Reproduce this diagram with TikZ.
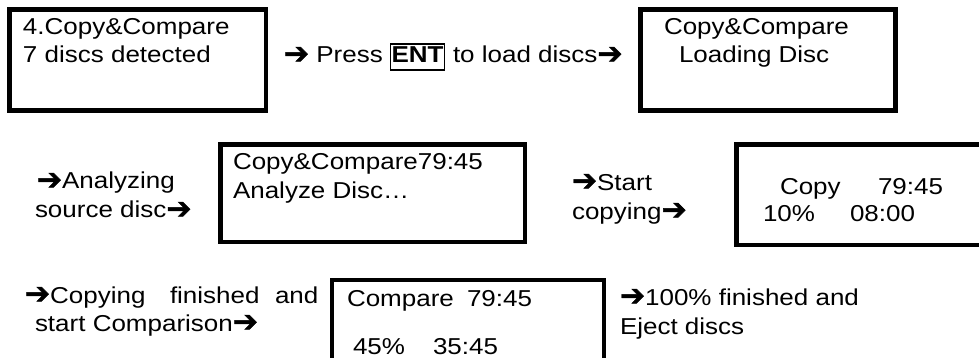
\documentclass[tikz,border=0pt]{standalone}
\usepackage{fontspec}
\setmainfont{Liberation Sans}[FakeStretch=1.13]
\newfontfamily\arrfont{DejaVu Sans}[FakeBold=1.5]
\newcommand{\harr}{{\arrfont\fontsize{30}{30}\selectfont\raisebox{-0.6pt}{➔}}}
\begin{document}
\begin{tikzpicture}[x=1pt,y=-1pt,
  every node/.style={inner sep=0pt, outer sep=0pt, font=\fontsize{23}{28}\selectfont},
  lcd/.style={draw, line width=4.5pt, anchor=north west},
  txt/.style={anchor=base west},
  keybox/.style={draw, line width=1.4pt, anchor=base, inner sep=1pt, text height=18pt, text depth=6pt, font=\fontsize{23}{28}\selectfont\bfseries}]
\useasboundingbox (0,0) rectangle (979,358);
\clip (0,0) rectangle (979,358);
% LCD boxes
\node[lcd, minimum width=256.5pt, minimum height=101pt] (b1) at (9.5,9.5) {};
\node[lcd, minimum width=255pt, minimum height=101pt] (b2) at (640.7,9.5) {};
\node[lcd, minimum width=304.3pt, minimum height=97.5pt] (b3) at (220.7,144.5) {};
\node[lcd, minimum width=260pt, minimum height=100.5pt] (b4) at (736.5,144.5) {};
\node[lcd, minimum width=272pt, minimum height=95pt] (b5) at (332,280) {};
% row 1
\node[txt] (t1a) at (23,35) {4.Copy\&Compare};
\node[txt] (t1b) at (23,63) {7 discs detected};
\node[txt] (p1) at (284,63) {\harr\ Press};
\node[keybox] (ent) at (417.5,63) {ENT};
\node[txt] (p2) at (453,63) {to load discs\harr};
\node[txt] (t2a) at (664,35) {Copy\&Compare};
\node[txt] (t2b) at (679,63) {Loading Disc};
% row 2
\node[txt] (s1a) at (37,189) {\harr Analyzing};
\node[txt] (s1b) at (35,218) {source disc\harr};
\node[txt] (t3a) at (233,170) {Copy\&Compare79:45};
\node[txt] (t3b) at (233,198) {Analyze Disc…};
\node[txt] (s2a) at (572,190) {\harr Start};
\node[txt] (s2b) at (572,219) {copying\harr};
\node[txt] (t4a) at (780,194) {Copy};
\node[txt] (t4b) at (878,194) {79:45};
\node[txt] (t4c) at (763,222) {10\%};
\node[txt] (t4d) at (850,222) {08:00};
% row 3
\node[txt] (s3a) at (25,303) {\harr Copying};
\node[txt] (s3b) at (170,303) {finished};
\node[txt] (s3c) at (275,303) {and};
\node[txt] (s3d) at (35,331) {start Comparison\harr};
\node[txt] (t5a) at (347,306) {Compare};
\node[txt] (t5b) at (467,306) {79:45};
\node[txt] (t5c) at (353,354) {45\%};
\node[txt] (t5d) at (433,354) {35:45};
\node[txt] (s4a) at (620,305) {\harr 100\% finished and};
\node[txt] (s4b) at (620,334) {Eject discs};
\end{tikzpicture}
\end{document}
